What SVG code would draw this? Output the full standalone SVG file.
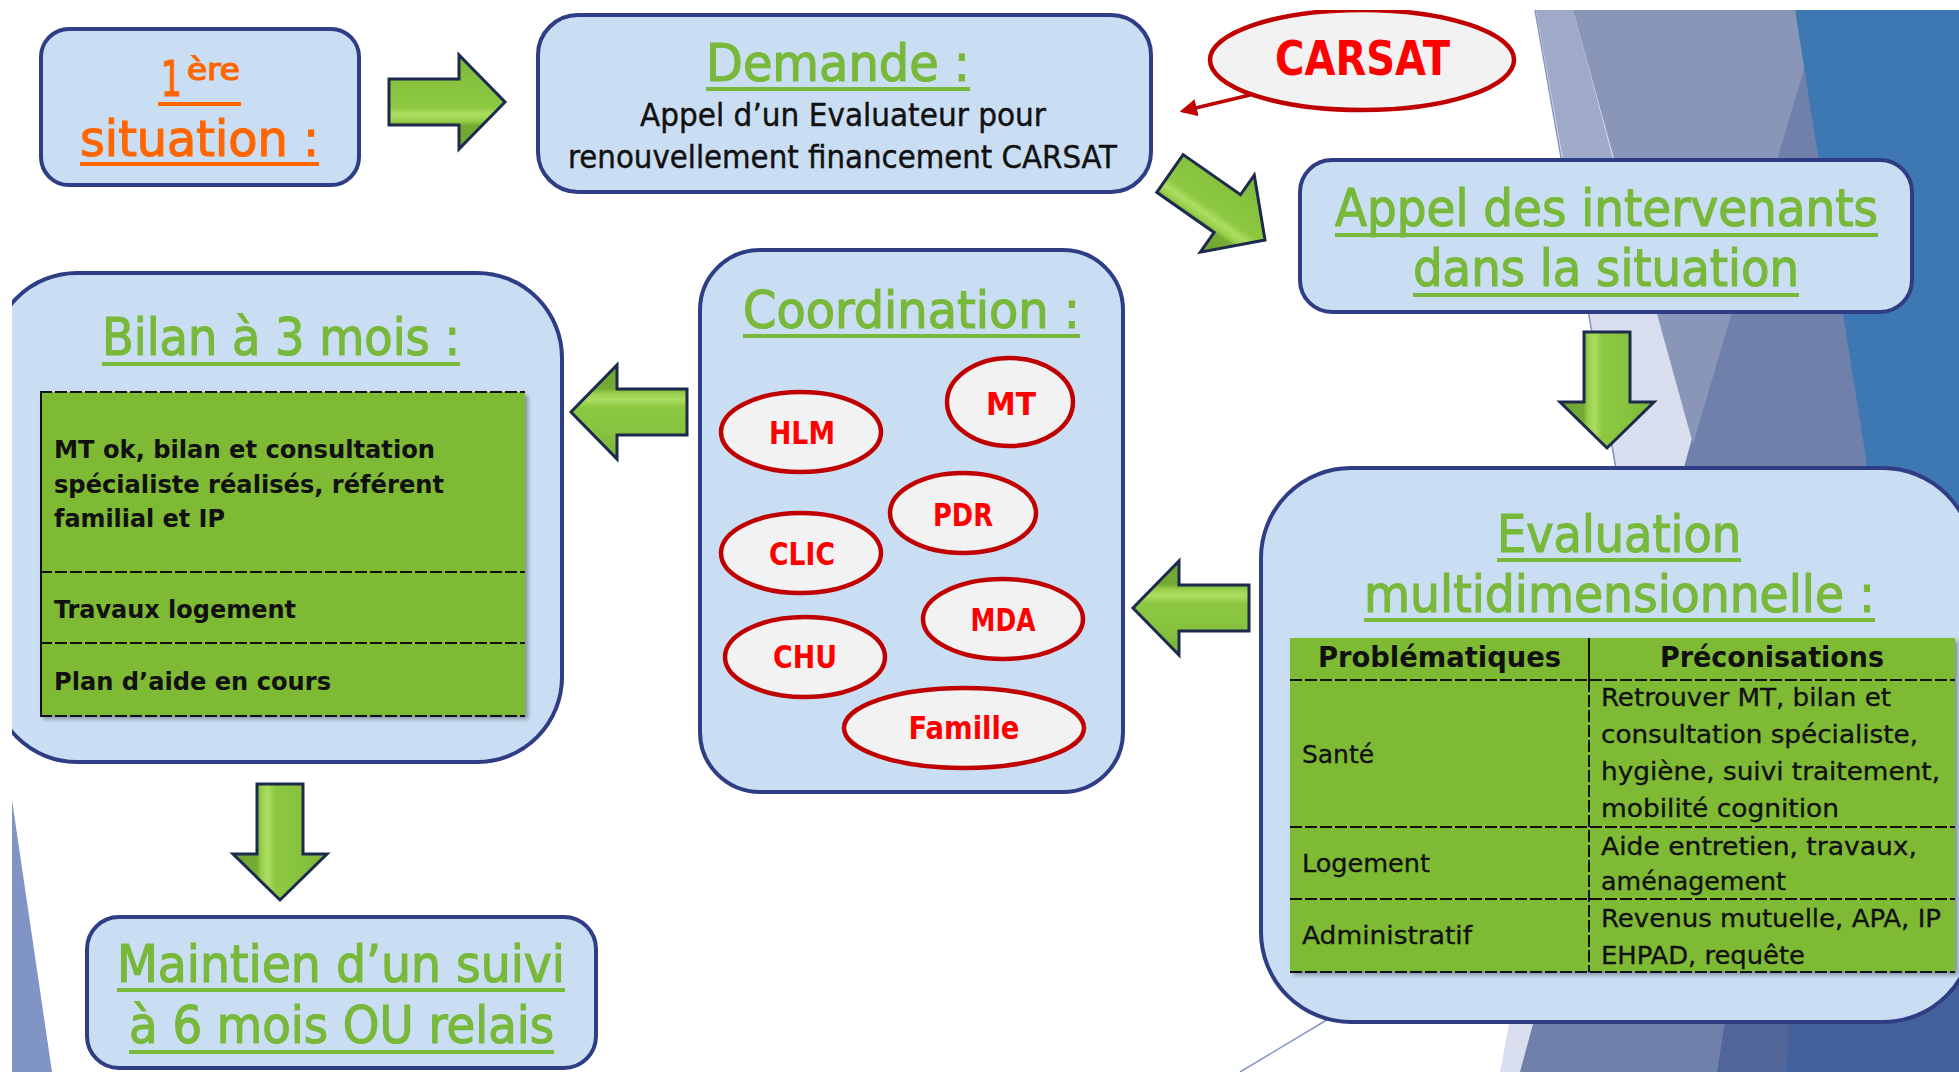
<svg xmlns="http://www.w3.org/2000/svg" xmlns:xlink="http://www.w3.org/1999/xlink" width="1959" height="1072" viewBox="0 0 1959 1072">
  <defs>
    <style>
      .f { font-family: "DejaVu Sans Condensed", "DejaVu Sans", sans-serif; font-stretch: condensed; }
      .ttl { font-size: 52px; fill: #78b83a; stroke: #78b83a; stroke-width: 1.2; }
      .ul { fill: #78b83a; }
      .org { fill: #ff6600; }
      .orgt { fill: #ff6600; stroke: #ff6600; stroke-width: 1.2; }
      .sub { font-size: 32px; fill: #111; stroke: #111; stroke-width: 0.4; }
      .cell { font-size: 25px; fill: #111; stroke: #111; stroke-width: 0.3; }
      .cellb { font-size: 24px; font-weight: bold; fill: #111; }
      .head { font-size: 28px; font-weight: bold; fill: #111; }
      .lbl { font-size: 32px; font-weight: bold; fill: #ff0000; text-anchor: middle; }
      .box { fill: #cadef3; stroke: #2e3d84; stroke-width: 4; }
      .oval { fill: #f2f2f2; stroke: #c00000; stroke-width: 4.5; }
      .tbl { fill: #7fba36; }
      .dash { stroke: #111; stroke-width: 2; stroke-dasharray: 12 3; fill: none; }
      .solid { stroke: #111; stroke-width: 2; fill: none; }
      .arrow { fill: url(#arrowGrad); stroke: #1d2a4e; stroke-width: 3; stroke-linejoin: miter; }
      .thin { stroke: #8493c2; stroke-width: 1.5; fill: none; }
    </style>
    <clipPath id="page">
      <rect x="12" y="10" width="1947" height="1062"/>
    </clipPath>
    <!-- block arrow, tip at the origin, pointing along +x -->
    <linearGradient id="arrowGrad" gradientUnits="userSpaceOnUse" x1="0" y1="-47" x2="0" y2="47">
      <stop offset="0" stop-color="#7bb339"/>
      <stop offset="0.26" stop-color="#86c23e"/>
      <stop offset="0.55" stop-color="#8dc841"/>
      <stop offset="0.63" stop-color="#acdd62"/>
      <stop offset="0.7" stop-color="#98d04c"/>
      <stop offset="0.75" stop-color="#74ab33"/>
      <stop offset="1" stop-color="#6ea52f"/>
    </linearGradient>
    <path id="blockArrow" class="arrow" d="M -116,-23 L -46,-23 L -46,-47 L 0,0 L -46,47 L -46,23 L -116,23 Z"/>
    <marker id="redHead" viewBox="0 0 10 10" refX="8" refY="5" markerWidth="5" markerHeight="5" orient="auto">
      <path d="M0,0 L10,5 L0,10 Z" fill="#c00000"/>
    </marker>
    <filter id="shadow" x="-5%" y="-5%" width="110%" height="110%">
      <feDropShadow dx="3" dy="3" stdDeviation="2" flood-color="#000" flood-opacity="0.35"/>
    </filter>
  </defs>

  <rect x="0" y="0" width="1959" height="1072" fill="#ffffff"/>

  <g clip-path="url(#page)">
    <!-- background facets (back to front) -->
    <g id="background">
      <polygon points="1536,10 1600,10 1720,440 1540,1072 1500,1072 1615,465" fill="#d9dfee"/>
      <polygon points="1536,10 1573,10 1616,170 1565,170" fill="#9eaac8"/>
      <polygon points="1800,40 1990,1072 1520,1072" fill="#6f80aa"/>
      <polygon points="1573,10 1795,10 1806,62 1693,444" fill="#8a96b8"/>
      <polygon points="1795,10 1959,10 1959,1072 1963,1072" fill="#3e78b2"/>
      <polygon points="1730,990 1959,990 1959,1072 1717,1072" fill="#50669b"/>
      <polygon points="1790,960 1959,960 1959,1072 1787,1072" fill="#43609a"/>
      <line class="thin" x1="1535" y1="10" x2="1618" y2="480"/>
      <line class="thin" x1="1240" y1="1072" x2="1330" y2="1018"/>
      <polygon points="12,800 12,1072 52,1072" fill="#8194c6"/>
    </g>

    <!-- connectors -->
    <g id="connectors">
      <use xlink:href="#blockArrow" transform="translate(505,102)"/>
      <use xlink:href="#blockArrow" transform="translate(1265,240) rotate(35)"/>
      <use xlink:href="#blockArrow" transform="translate(1607,448) rotate(90)"/>
      <use xlink:href="#blockArrow" transform="translate(1133,608) rotate(180)"/>
      <use xlink:href="#blockArrow" transform="translate(571,412) rotate(180)"/>
      <use xlink:href="#blockArrow" transform="translate(280,900) rotate(90)"/>
      <line x1="1250" y1="95" x2="1183" y2="111" stroke="#c00000" stroke-width="3.5" marker-end="url(#redHead)"/>
    </g>

    <!-- 1ère situation -->
    <g id="situation">
      <rect class="box" x="41" y="29" width="318" height="156" rx="28"/>
      <text class="f orgt" x="161" y="96" font-size="50" textLength="21" lengthAdjust="spacingAndGlyphs">1</text>
      <text class="f orgt" x="187" y="80" font-size="30" stroke-width="0.8" textLength="53" lengthAdjust="spacingAndGlyphs">ère</text>
      <rect class="org" x="158" y="102" width="83" height="4"/>
      <text class="f orgt" x="80" y="156" font-size="50" textLength="239" lengthAdjust="spacingAndGlyphs">situation :</text>
      <rect class="org" x="80" y="162" width="239" height="4"/>
    </g>

    <!-- Demande -->
    <g id="demande">
      <rect class="box" x="538" y="15" width="613" height="177" rx="40"/>
      <text class="f ttl" x="706" y="81" font-size="54" textLength="264" lengthAdjust="spacingAndGlyphs">Demande :</text>
      <rect class="ul" x="706" y="87" width="264" height="4"/>
      <text class="f sub" x="640" y="126" textLength="406" lengthAdjust="spacingAndGlyphs">Appel d’un Evaluateur pour</text>
      <text class="f sub" x="568" y="168" textLength="549" lengthAdjust="spacingAndGlyphs">renouvellement financement CARSAT</text>
    </g>

    <!-- CARSAT -->
    <g id="carsat">
      <ellipse class="oval" cx="1362" cy="60" rx="152" ry="50"/>
      <text class="f" x="1275" y="75" font-size="48" font-weight="bold" fill="#ff0000" textLength="175" lengthAdjust="spacingAndGlyphs">CARSAT</text>
    </g>

    <!-- Appel des intervenants -->
    <g id="intervenants">
      <rect class="box" x="1300" y="160" width="612" height="152" rx="32"/>
      <text class="f ttl" x="1335" y="226" font-size="50" textLength="543" lengthAdjust="spacingAndGlyphs">Appel des intervenants</text>
      <rect class="ul" x="1335" y="233" width="543" height="4"/>
      <text class="f ttl" x="1413" y="286" font-size="50" textLength="386" lengthAdjust="spacingAndGlyphs">dans la situation</text>
      <rect class="ul" x="1413" y="293" width="386" height="4"/>
    </g>

    <!-- Evaluation multidimensionnelle -->
    <g id="evaluation">
      <rect class="box" x="1261" y="468" width="712" height="554" rx="90"/>
      <text class="f ttl" x="1497" y="552" textLength="244" lengthAdjust="spacingAndGlyphs">Evaluation</text>
      <rect class="ul" x="1497" y="558" width="244" height="4"/>
      <text class="f ttl" x="1364" y="612" textLength="511" lengthAdjust="spacingAndGlyphs">multidimensionnelle :</text>
      <rect class="ul" x="1364" y="618" width="511" height="4"/>
      <g id="evaluation-table">
        <rect class="tbl" x="1290" y="638" width="665" height="334" filter="url(#shadow)"/>
        <line class="solid" x1="1589" y1="638" x2="1589" y2="680"/>
        <line class="dash" x1="1589" y1="680" x2="1589" y2="972"/>
        <line class="dash" x1="1290" y1="680" x2="1955" y2="680"/>
        <line class="dash" x1="1290" y1="827" x2="1955" y2="827"/>
        <line class="dash" x1="1290" y1="899" x2="1955" y2="899"/>
        <line class="dash" x1="1290" y1="972" x2="1955" y2="972"/>
        <text class="f head" x="1318" y="667" textLength="243" lengthAdjust="spacingAndGlyphs">Problématiques</text>
        <text class="f head" x="1660" y="667" textLength="224" lengthAdjust="spacingAndGlyphs">Préconisations</text>
        <text class="f cell" x="1302" y="763" textLength="72" lengthAdjust="spacingAndGlyphs">Santé</text>
        <text class="f cell" x="1601" y="706" textLength="290" lengthAdjust="spacingAndGlyphs">Retrouver MT, bilan et</text>
        <text class="f cell" x="1601" y="743" textLength="317" lengthAdjust="spacingAndGlyphs">consultation spécialiste,</text>
        <text class="f cell" x="1601" y="780" textLength="339" lengthAdjust="spacingAndGlyphs">hygiène, suivi traitement,</text>
        <text class="f cell" x="1601" y="817" textLength="238" lengthAdjust="spacingAndGlyphs">mobilité cognition</text>
        <text class="f cell" x="1302" y="872" textLength="128" lengthAdjust="spacingAndGlyphs">Logement</text>
        <text class="f cell" x="1601" y="855" textLength="316" lengthAdjust="spacingAndGlyphs">Aide entretien, travaux,</text>
        <text class="f cell" x="1601" y="890" textLength="185" lengthAdjust="spacingAndGlyphs">aménagement</text>
        <text class="f cell" x="1302" y="944" textLength="170" lengthAdjust="spacingAndGlyphs">Administratif</text>
        <text class="f cell" x="1601" y="927" textLength="340" lengthAdjust="spacingAndGlyphs">Revenus mutuelle, APA, IP</text>
        <text class="f cell" x="1601" y="964" textLength="204" lengthAdjust="spacingAndGlyphs">EHPAD, requête</text>
      </g>
    </g>

    <!-- Coordination -->
    <g id="coordination">
      <rect class="box" x="700" y="250" width="423" height="542" rx="60"/>
      <text class="f ttl" x="743" y="328" textLength="337" lengthAdjust="spacingAndGlyphs">Coordination :</text>
      <rect class="ul" x="743" y="334" width="337" height="4"/>
    </g>
    <g id="hlm">
      <ellipse class="oval" cx="801" cy="432" rx="80" ry="40"/>
      <text class="f lbl" x="802" y="444" textLength="66" lengthAdjust="spacingAndGlyphs">HLM</text>
    </g>
    <g id="mt">
      <ellipse class="oval" cx="1010" cy="402" rx="63" ry="44"/>
      <text class="f lbl" x="1011" y="415" textLength="50" lengthAdjust="spacingAndGlyphs">MT</text>
    </g>
    <g id="pdr">
      <ellipse class="oval" cx="963" cy="513" rx="73" ry="40"/>
      <text class="f lbl" x="963" y="526" textLength="60" lengthAdjust="spacingAndGlyphs">PDR</text>
    </g>
    <g id="clic">
      <ellipse class="oval" cx="801" cy="553" rx="80" ry="40"/>
      <text class="f lbl" x="802" y="565" textLength="66" lengthAdjust="spacingAndGlyphs">CLIC</text>
    </g>
    <g id="mda">
      <ellipse class="oval" cx="1003" cy="619" rx="80" ry="40"/>
      <text class="f lbl" x="1003" y="631" textLength="65" lengthAdjust="spacingAndGlyphs">MDA</text>
    </g>
    <g id="chu">
      <ellipse class="oval" cx="805" cy="657" rx="80" ry="40"/>
      <text class="f lbl" x="805" y="668" textLength="64" lengthAdjust="spacingAndGlyphs">CHU</text>
    </g>
    <g id="famille">
      <ellipse class="oval" cx="964" cy="728" rx="120" ry="40"/>
      <text class="f lbl" x="964" y="739" textLength="111" lengthAdjust="spacingAndGlyphs">Famille</text>
    </g>

    <!-- Bilan à 3 mois -->
    <g id="bilan">
      <rect class="box" x="-8" y="273" width="570" height="489" rx="85"/>
      <text class="f ttl" x="102" y="355" textLength="358" lengthAdjust="spacingAndGlyphs">Bilan à 3 mois :</text>
      <rect class="ul" x="102" y="362" width="358" height="4"/>
      <g id="bilan-table">
        <rect class="tbl" x="40" y="392" width="485" height="324" filter="url(#shadow)"/>
        <line class="solid" x1="41" y1="392" x2="41" y2="716"/>
        <line class="dash" x1="40" y1="392" x2="525" y2="392"/>
        <line class="dash" x1="40" y1="572" x2="525" y2="572"/>
        <line class="dash" x1="40" y1="643" x2="525" y2="643"/>
        <line class="dash" x1="40" y1="716" x2="525" y2="716"/>
        <text class="f cellb" x="54" y="458" textLength="381" lengthAdjust="spacingAndGlyphs">MT ok, bilan et consultation</text>
        <text class="f cellb" x="54" y="493" textLength="390" lengthAdjust="spacingAndGlyphs">spécialiste réalisés, référent</text>
        <text class="f cellb" x="54" y="527" textLength="171" lengthAdjust="spacingAndGlyphs">familial et IP</text>
        <text class="f cellb" x="54" y="618" textLength="242" lengthAdjust="spacingAndGlyphs">Travaux logement</text>
        <text class="f cellb" x="54" y="690" textLength="277" lengthAdjust="spacingAndGlyphs">Plan d’aide en cours</text>
      </g>
    </g>

    <!-- Maintien d'un suivi -->
    <g id="maintien">
      <rect class="box" x="87" y="917" width="509" height="151" rx="32"/>
      <text class="f ttl" x="117" y="982" textLength="448" lengthAdjust="spacingAndGlyphs">Maintien d’un suivi</text>
      <rect class="ul" x="117" y="988" width="448" height="4"/>
      <text class="f ttl" x="129" y="1043" textLength="425" lengthAdjust="spacingAndGlyphs">à 6 mois OU relais</text>
      <rect class="ul" x="129" y="1050" width="425" height="4"/>
    </g>
  </g>
</svg>
